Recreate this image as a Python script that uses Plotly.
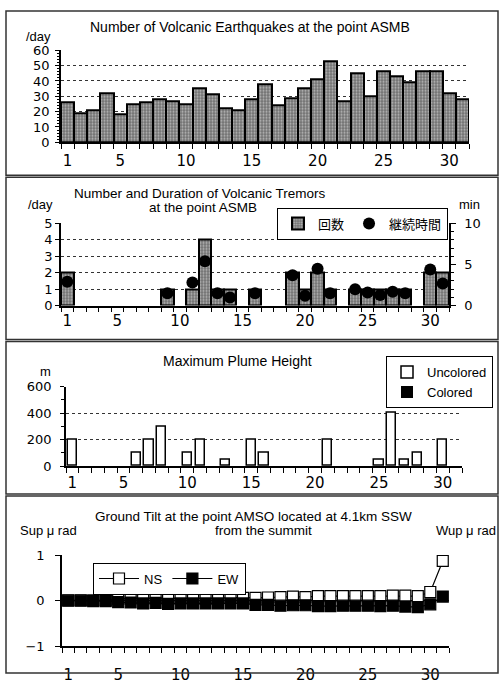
import plotly.graph_objects as go

# ---------------- data ----------------
days = list(range(1, 32))
x_tick_labels = [1, 5, 10, 15, 20, 25, 30]

quakes_per_day = [26, 19, 21, 32, 18, 25, 26, 28, 27, 25, 35, 31, 22, 21, 28, 38,
                  24, 29, 35, 41, 53, 27, 45, 30, 46, 43, 39, 46, 46, 32, 28]

tremor_count = [2, None, None, None, None, None, None, None, 1, None, 1, 4, 1, 1, None, 1,
                None, None, 2, 1, 2, 1, None, 1, 1, 1, 1, 1, None, 2, 2]
tremor_minutes = [2.9, None, None, None, None, None, None, None, 1.5, None, 2.8, 5.4, 1.5, 1.0, None, 1.5,
                  None, None, 3.7, 1.2, 4.5, 1.5, None, 2.0, 1.6, 1.3, 1.7, 1.5, None, 4.4, 2.7]

plume_uncolored = [200, None, None, None, None, 100, 200, 300, None, 100, 200, None, 50, None, 200, 100,
                   None, None, None, None, 200, None, None, None, 50, 400, 50, 100, None, 200, None]
plume_colored = [0] * 31

tilt_ns = [0.01, 0.01, 0.01, 0.01, 0.04, 0.05, 0.05, 0.05, 0.05, 0.05, 0.05, 0.04, 0.05, 0.07, 0.06, 0.06,
           0.07, 0.08, 0.09, 0.08, 0.10, 0.10, 0.10, 0.10, 0.10, 0.10, 0.11, 0.11, 0.10, 0.19, 0.87]
tilt_ew = [0.0, 0.0, -0.01, -0.01, -0.03, -0.04, -0.06, -0.05, -0.07, -0.06, -0.06, -0.06, -0.06, -0.06, -0.06, -0.09,
           -0.09, -0.11, -0.10, -0.10, -0.12, -0.12, -0.11, -0.11, -0.11, -0.12, -0.11, -0.13, -0.14, -0.08, 0.09]

# ---------------- helpers ----------------
W, H = 501, 684
def fx(p): return p / W
def fy(p): return 1 - p / H

FT = "Liberation Sans, Arial, sans-serif"
FN = "DejaVu Sans, sans-serif"
FJ = "Noto Sans CJK JP, sans-serif"

pattern = dict(shape=".", fgcolor="white", bgcolor="#707070", size=3, solidity=0.4)

fig = go.Figure()

# Panel 1
fig.add_trace(go.Bar(x=days, y=quakes_per_day, xaxis="x", yaxis="y", width=1,
                     marker=dict(color="#707070", pattern=pattern, line=dict(color="black", width=2)),
                     showlegend=False))
# Panel 2
fig.add_trace(go.Bar(x=days, y=tremor_count, xaxis="x2", yaxis="y2", width=1, name="回数",
                     marker=dict(color="#707070", pattern=pattern, line=dict(color="black", width=2)),
                     legend="legend"))
fig.add_trace(go.Scatter(x=days, y=tremor_minutes, xaxis="x2", yaxis="y3", mode="markers", name="継続時間",
                         marker=dict(symbol="circle", size=12, color="black"), legend="legend"))
# Panel 3
fig.add_trace(go.Bar(x=days, y=plume_uncolored, xaxis="x3", yaxis="y4", width=0.72, name="Uncolored",
                     marker=dict(color="white", line=dict(color="black", width=1.5)), legend="legend2"))
fig.add_trace(go.Bar(x=days, y=plume_colored, xaxis="x3", yaxis="y4", width=0.72, name="Colored",
                     marker=dict(color="black", line=dict(color="black", width=0)), legend="legend2"))
# Panel 4
fig.add_trace(go.Scatter(x=days, y=tilt_ns, xaxis="x4", yaxis="y5", mode="lines+markers", name="NS",
                         line=dict(color="black", width=1.2),
                         marker=dict(symbol="square", size=11, color="white", line=dict(color="black", width=1.2)),
                         legend="legend3"))
fig.add_trace(go.Scatter(x=days, y=tilt_ew, xaxis="x4", yaxis="y5", mode="lines+markers", name="EW",
                         line=dict(color="black", width=1.2),
                         marker=dict(symbol="square", size=11, color="black", line=dict(color="black", width=1.2)),
                         legend="legend3"))

def xaxis(x0, x1, anchor, standoff):
    return dict(domain=[fx(x0), fx(x1)], anchor=anchor, range=[0.5, 31.5],
                tickmode="array", tickvals=x_tick_labels, ticktext=[str(v) for v in x_tick_labels],
                ticks="", showline=True, linecolor="black", linewidth=1.5,
                showgrid=False, zeroline=False, ticklabelstandoff=standoff,
                tickfont=dict(family=FN, size=15, color="black"),
                minor=dict(tickmode="array", tickvals=[d - 0.5 for d in days] + [31.5],
                           ticks="outside", ticklen=5, tickcolor="black", tickwidth=1))

grid_dot = dict(showgrid=True, gridcolor="#333", griddash="dot", gridwidth=1)

layout = dict(
    width=W, height=H, margin=dict(l=0, r=0, t=0, b=0),
    paper_bgcolor="white", plot_bgcolor="white",
    barmode="overlay", bargap=0,
    xaxis=xaxis(61, 469, "y", 4),
    yaxis=dict(domain=[fy(138.3), fy(44.3)], anchor="x", range=[0, 60], dtick=10,
               ticks="outside", ticklen=4, tickcolor="black", showline=True, linecolor="black", linewidth=1.5,
               zeroline=False, tickfont=dict(family=FN, size=13, color="black"), ticklabelstandoff=3,
               minor=dict(dtick=2, ticks="outside", ticklen=2, tickcolor="black"), **grid_dot),
    xaxis2=xaxis(61, 449, "y2", 1),
    yaxis2=dict(domain=[fy(305.3), fy(221.3)], anchor="x2", range=[0, 5], dtick=1,
                ticks="outside", ticklen=4, tickcolor="black", showline=True, linecolor="black", linewidth=1.5,
                zeroline=False, tickfont=dict(family=FN, size=13, color="black"), **grid_dot),
    yaxis3=dict(overlaying="y2", side="right", anchor="x2", range=[0, 10], dtick=5,
                ticks="outside", ticklen=5, tickcolor="black", showline=True, linecolor="black", linewidth=1.5,
                showgrid=False, zeroline=False, tickfont=dict(family=FN, size=13, color="black"),
                ticklabelstandoff=6,
                minor=dict(dtick=1, ticks="outside", ticklen=3, tickcolor="black")),
    xaxis3=xaxis(66, 462, "y4", 2),
    yaxis4=dict(domain=[fy(469.3), fy(388.3)], anchor="x3", range=[0, 600], dtick=200,
                ticks="outside", ticklen=4, tickcolor="black", showline=True, linecolor="black", linewidth=1.5,
                zeroline=False, tickfont=dict(family=FN, size=13, color="black"), ticklabelstandoff=6,
                minor=dict(dtick=100, ticks="outside", ticklen=3, tickcolor="black"), **grid_dot),
    xaxis4=xaxis(62, 449, "y5", 14),
    yaxis5=dict(domain=[fy(653.7), fy(560.3)], anchor="x4", range=[-1, 1], dtick=1,
                ticks="outside", ticklen=5, tickcolor="black", showline=True, linecolor="black", linewidth=1.5,
                zeroline=False, tickfont=dict(family=FN, size=13, color="black"), ticklabelstandoff=8,
                showgrid=True, gridcolor="black", gridwidth=1),
    yaxis6=dict(overlaying="y5", side="right", anchor="x4", range=[-1, 1], dtick=1,
                ticks="outside", ticklen=5, tickcolor="black", showline=True, linecolor="black", linewidth=1.5,
                showgrid=False, zeroline=False, tickfont=dict(family=FN, size=13, color="black"),
                ticklabelstandoff=3),
    legend=dict(x=fx(448), y=fy(205), xanchor="right", yanchor="top", orientation="h",
                bgcolor="white", bordercolor="black", borderwidth=1,
                font=dict(family=FJ, size=13, color="black"), itemwidth=30),
    legend2=dict(x=fx(493), y=fy(357), xanchor="right", yanchor="top", orientation="v",
                 bgcolor="white", bordercolor="black", borderwidth=1, tracegroupgap=0,
                 font=dict(family=FT, size=13, color="black")),
    legend3=dict(x=fx(93), y=fy(568), xanchor="left", yanchor="top", orientation="h",
                 bgcolor="white", bordercolor="black", borderwidth=1, itemwidth=40,
                 font=dict(family=FT, size=13, color="black")),
)
fig.update_layout(**layout)

def note(text, x, y, size=14, family=FT):
    fig.add_annotation(text=text, x=fx(x), y=fy(y), xref="paper", yref="paper",
                       showarrow=False, xanchor="center", yanchor="middle",
                       font=dict(family=family, size=size, color="black"))

note("Number of Volcanic Earthquakes at the point ASMB", 250, 20)
note("/day", 38, 30, 13)
note("Number and Duration of Volcanic Tremors", 200, 190.5, 13.5)
note("at the point ASMB", 203, 205.5, 13.5)
note("/day", 40, 202, 13)
note("min", 469, 202, 13)
note("Maximum Plume Height", 237, 362)
note("m", 45, 373, 13)
note("Ground Tilt at the point AMSO located at 4.1km SSW", 253, 520.5, 13.5)
note("from the summit", 263, 535.5, 13.5)
note("Sup μ rad", 48, 535.5, 13)
note("Wup μ rad", 466, 535.5, 13)

for (t, b) in [(4, 172), (174, 340), (342, 498), (500, 681)]:
    fig.add_shape(type="rect", xref="paper", yref="paper", x0=fx(6), x1=fx(498), y0=fy(b), y1=fy(t),
                  line=dict(color="#333", width=1.5), fillcolor="rgba(0,0,0,0)", layer="above")

fig.write_html("out.html", config={"displayModeBar": False},
               post_script="document.body.style.margin='0px';document.body.style.overflow='hidden';")
